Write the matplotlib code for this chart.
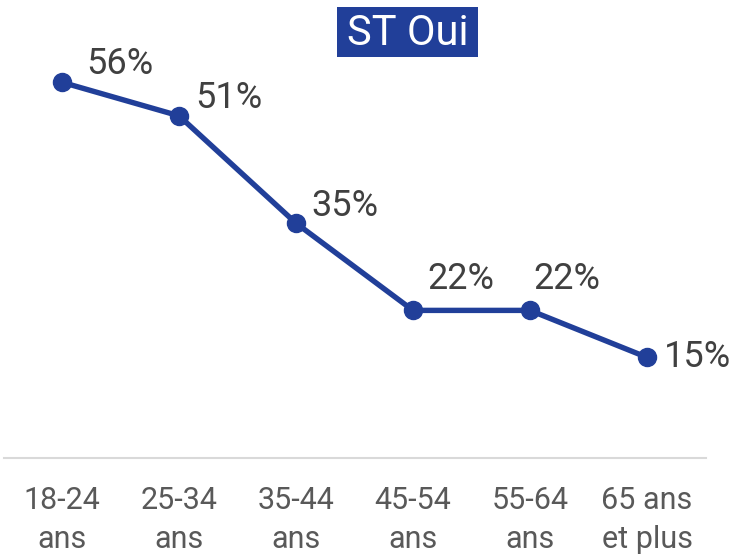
import matplotlib
matplotlib.use('Agg')
import matplotlib.pyplot as plt
from matplotlib.patches import Rectangle

categories = ['18-24\nans', '25-34\nans', '35-44\nans', '45-54\nans', '55-64\nans', '65 ans\net plus']
values = [56, 51, 35, 22, 22, 15]
title = 'ST Oui'

# label offsets from each point, in pixels (dx, dy of baseline)
label_offsets = [(24, 8), (16, 8), (15, 7), (14, 21), (3, 21), (17, -10)]

blue = '#213f99'
label_grey = '#404040'
tick_grey = '#595959'

plt.rcParams['font.family'] = ['Roboto', 'DejaVu Sans']

fig = plt.figure(figsize=(7.48, 5.56), dpi=100)
ax = fig.add_axes([0.0047, 0.1763, 0.9385, 0.7517])

x = list(range(len(values)))
ax.plot(x, values, color=blue, linewidth=3.9, marker='o', markersize=13,
        solid_capstyle='round')
px = 72 / fig.dpi
for xi, v, (dx, dy) in zip(x, values, label_offsets):
    ax.annotate(f'{v}%', (xi, v), xytext=(dx * px, dy * px), textcoords='offset points',
                fontsize=26, color=label_grey, ha='left', va='baseline')

ax.set_xlim(-0.5, len(values) - 0.5)
ax.set_ylim(0, 62.3)
ax.set_xticks(x)
ax.set_xticklabels(categories, fontsize=22, color=tick_grey, linespacing=1.45)
ax.tick_params(axis='x', length=0, pad=20)
ax.set_yticks([])
for s in ['top', 'right', 'left']:
    ax.spines[s].set_visible(False)
ax.spines['bottom'].set_color('#d9d9d9')
ax.spines['bottom'].set_linewidth(1.5)

fig.add_artist(Rectangle((337 / 748, 1 - 57 / 556), 141 / 748, 50 / 556,
                         transform=fig.transFigure, facecolor=blue, edgecolor='none'))
fig.text(408 / 748, 1 - 45 / 556, title, fontsize=30, color='white',
         ha='center', va='baseline')

fig.savefig('out.png', dpi=100)
